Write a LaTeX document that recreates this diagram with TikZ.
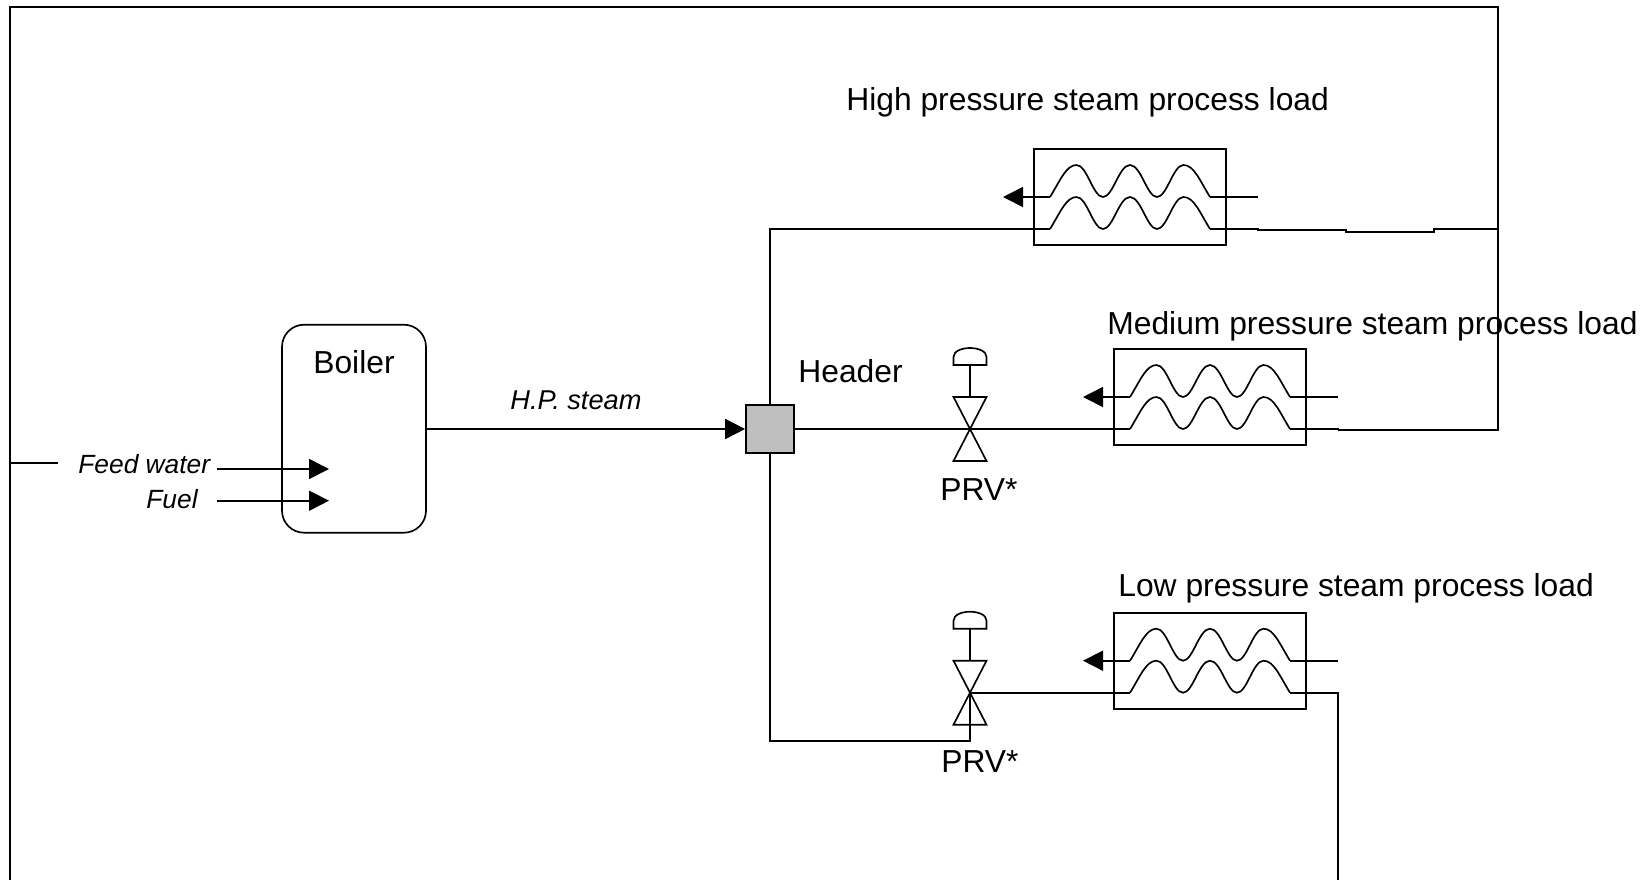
\documentclass[tikz,border=0pt]{standalone}
\usepackage{fontspec}
\setmainfont{Liberation Sans}
\usetikzlibrary{calc,positioning,arrows.meta}
\tikzstyle{every node}=[font=\fontsize{18.1}{22}\selectfont,inner sep=0pt]
\tikzstyle{arrow} = [line width=0.95pt,-{Triangle[length=0.4cm,width=0.4cm]}]
\tikzstyle{pipe} = [line width=0.95pt]
\tikzstyle{flowtext} = [font=\fontsize{15}{18}\selectfont\itshape,anchor=base west]
\tikzstyle{plaintext} = [anchor=base west]
\tikzstyle{hxbox} = [draw,line width=1pt,minimum width=3.84cm,minimum height=1.92cm]
% one coil of an exchanger, #1 is its offset from the box centre
\newcommand{\hxcoil}[1]{\draw[pipe] (-80,#1) .. controls (-70,#1-16) and (-64,#1-32) .. (-53.5,#1-32)
	.. controls (-43,#1-32) and (-37,#1) .. (-27,#1)
	.. controls (-17,#1) and (-11,#1-32) .. (0,#1-32)
	.. controls (11,#1-32) and (17,#1) .. (27,#1)
	.. controls (37,#1) and (43,#1-32) .. (53.5,#1-32)
	.. controls (64,#1-32) and (70,#1-16) .. (80,#1);}

\begin{document}
\begin{tikzpicture}[x=0.02cm,y=-0.02cm]
\useasboundingbox (0,0) rectangle (1652,880);

% boiler and header
\node[draw,line width=0.95pt,rounded corners=0.44cm,minimum width=2.88cm,minimum height=4.16cm] (boiler) at (354,428.7) {};
\node[draw,line width=1pt,fill=black!25,minimum width=0.96cm,minimum height=0.96cm] (header) at (770,429) {};

% labels
\node[plaintext] (boilertext) at (313,373) {Boiler};
\node[plaintext] (headertext) at (798,382.7) {Header};
\node[plaintext] (prvmedtext) at (940,500) {PRV*};
\node[plaintext] (prvlowtext) at (941,772) {PRV*};
\node[plaintext] (hightext) at (846,110.6) {High pressure steam process load};
\node[plaintext] (medtext) at (1107,334) {Medium pressure steam process load};
\node[plaintext] (lowtext) at (1118,596) {Low pressure steam process load};
\node[flowtext] (feedtext) at (78,473.7) {Feed water};
\node[flowtext] (fueltext) at (146,508) {Fuel};
\node[flowtext,font=\fontsize{15.5}{18}\selectfont\itshape] (steamtext) at (510,409) {H.P. steam};

% exchangers
\foreach \nm/\x/\y in {high/1130/197,med/1210/397,low/1210/660.7} {
	\node[hxbox] (hx\nm) at (\x,\y) {};
	\begin{scope}[shift={(\x,\y)}]
		\hxcoil{0}
		\hxcoil{32}
		\coordinate (\nm upl) at (-80,0);
		\coordinate (\nm upr) at (80,0);
		\coordinate (\nm upend) at (128,0);
		\coordinate (\nm tip) at (-127,0);
		\coordinate (\nm lowl) at (-80,32);
		\coordinate (\nm lowr) at (80,32);
	\end{scope}
	\draw[arrow] (\nm upl) -- (\nm tip);
	\draw[pipe] (\nm upr) -- (\nm upend);
}

% valves
\foreach \nm/\x/\y in {med/970/429,low/970/692.7} {
	\begin{scope}[shift={(\x,\y)}]
		\coordinate (valve\nm) at (0,0);
		\draw[pipe] (-16.5,-32) -- (16.5,-32) -- (-16.5,32) -- (16.5,32) -- cycle;
		\draw[pipe] (0,-32) -- (0,-64);
		\draw[pipe] (-16.5,-64) -- (-16.5,-72) .. controls (-16.5,-78) and (-8,-81) .. (0,-81)
			.. controls (8,-81) and (16.5,-78) .. (16.5,-72) -- (16.5,-64) -- cycle;
	\end{scope}
}

% free ends
\coordinate (feedstart) at (217,469);
\coordinate (feedend) at (329,469);
\coordinate (fuelstart) at (217,500.7);
\coordinate (fuelend) at (329,500.7);
\coordinate (bendlow) at (970,740.7);
\coordinate (stepa) at (1258,229.7);
\coordinate (stepb) at (1346,232);
\coordinate (stepc) at (1434,229);
\coordinate (corner) at (1498,7);
\coordinate (cornerb) at (1498,430);
\coordinate (cornerl) at (10,7);
\coordinate (bottoml) at (10,880);
\coordinate (stubl) at (10,462.7);
\coordinate (stubr) at (58,462.7);
\coordinate (medout) at (1338.5,430);
\coordinate (lowout) at (1337.7,880);

% flows
\draw[arrow] (feedstart) -- (feedend);
\draw[arrow] (fuelstart) -- (fuelend);
\draw[arrow] (boiler.east |- header.west) -- (header.west);
\draw[pipe] (header.east) -- (valvemed) -- (medlowl);
\draw[pipe] (header.north) |- (highlowl);
\draw[pipe] (header.south) |- (bendlow) -- (valvelow) -- (lowlowl);

% return lines
\draw[pipe] (highlowr) -- (1258,229) -- (stepa) -- (1346,229.7) -- (stepb) -- (1434,232) -- (stepc) -- (corner |- stepc);
\draw[pipe] (medlowr) -- (1338.5,429) -- (medout) -- (cornerb) -- (corner) -- (cornerl) -- (bottoml);
\draw[pipe] (stubl) -- (stubr);
\draw[pipe] (lowlowr) -| (lowout);

\end{tikzpicture}
\end{document}
